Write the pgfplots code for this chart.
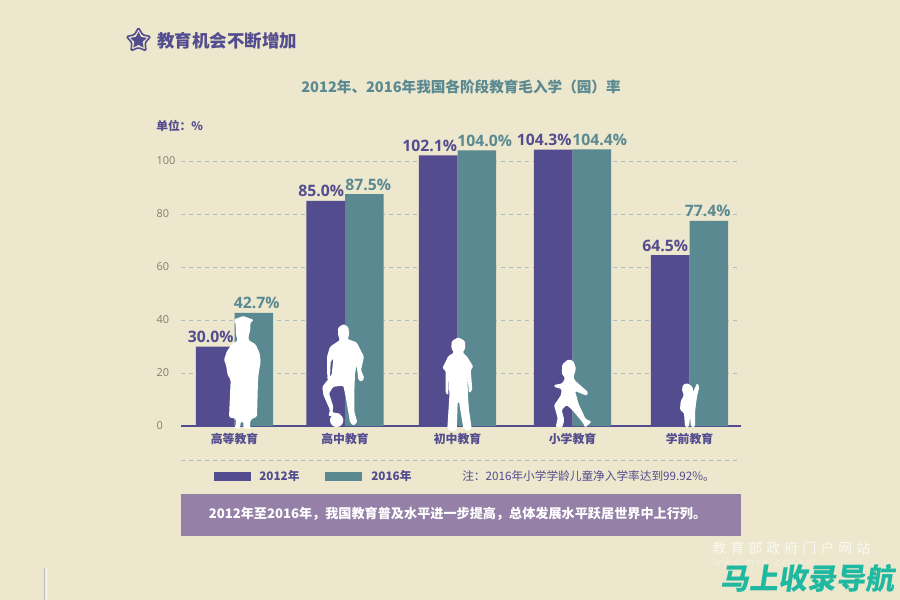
\documentclass[border=0pt]{standalone}
\usepackage{fontspec}
\usepackage{pgfplots}
\pgfplotsset{compat=1.18}
\usetikzlibrary{shapes.geometric}
\setmainfont{Noto Sans CJK SC}
\newfontfamily\numfont{Open Sans}
\definecolor{bgc}{HTML}{ECE7CD}
\definecolor{pur}{HTML}{534C8E}
\definecolor{tea}{HTML}{5A8992}
\definecolor{boxc}{HTML}{9580A8}
\definecolor{gridc}{HTML}{AEBFC6}
\definecolor{tickc}{HTML}{857D70}
\definecolor{wm}{HTML}{1FB8A0}
\newcommand{\fs}[1]{\fontsize{#1}{#1}\selectfont}
\begin{document}
\begin{tikzpicture}
\useasboundingbox (0,0) rectangle (675pt,-450pt);
\fill[bgc] (0,0) rectangle (675pt,-450pt);
\begin{axis}[
  at={(135.75pt,-319.5pt)}, anchor=south west,
  scale only axis, width=420pt, height=218.6pt,
  xmin=181, xmax=741, ymin=0, ymax=110,
  axis x line=bottom, axis y line=left,
  axis line style={-},
  x axis line style={draw=pur, line width=1.6pt},
  y axis line style={draw=none},
  major tick length=0pt,
  ytick={0,20,40,60,80,100},
  xtick={234.5,345,457.5,572.5,689.5},
  xticklabels={高等教育,高中教育,初中教育,小学教育,学前教育},
  xticklabel style={text=pur, font=\fs{8.9pt}\bfseries, inner sep=0pt, yshift=-5.5pt},
  yticklabel style={text=tickc, font=\numfont\fs{8.2pt}, anchor=east, inner sep=0pt, text width=15pt, align=left, xshift=-3pt},
  /pgf/number format/assume math mode=true,
  ymajorgrids, grid style={draw=gridc, dashed, line width=.6pt},
  ybar=0pt, bar width=28.9pt,
  nodes near coords={\pgfmathprintnumber[fixed,fixed zerofill,precision=1]{\pgfplotspointmeta}\%},
  every node near coord/.append style={font=\numfont\bfseries\fs{11.8pt}, inner sep=0pt, anchor=south, xshift=\dx*0.75pt, yshift=2.6pt},
  visualization depends on={\thisrow{dx}\as\dx},
  clip=false, axis on top=false,
]
\addplot[fill=pur, draw=none, every node near coord/.append style={text=pur}] table[x=x,y=y,meta=y]{
x y dx
234.5 30.0 -4.5
345 85.0 -4.5
457.5 102.1 -8.5
572.5 104.3 -9
689.5 64.5 -5
};
\addplot[fill=tea, draw=none, every node near coord/.append style={text=tea}] table[x=x,y=y,meta=y]{
x y dx
234.5 42.7 3
345 87.5 4
457.5 104.0 8
572.5 104.4 8
689.5 77.4 -1
};
\end{axis}
\begin{scope}[x=.75pt,y=-.75pt]
\node[anchor=west,inner sep=0pt,text=pur,font=\fs{13.1pt}\bfseries] at (157,40.5) {教育机会不断增加};
\node[star,star points=5,star point ratio=1.8,minimum size=19pt,inner sep=0pt,draw=pur,line width=1.2pt,fill=bgc,rounded corners=1pt] at (138.5,40.5) {};
\node[star,star points=5,star point ratio=2.0,minimum size=13pt,inner sep=0pt,fill=pur] at (138.5,40.5) {};
\node[anchor=center,inner sep=0pt,text=tea,font=\fs{10.95pt}\bfseries] at (461,87) {2012年、2016年我国各阶段教育毛入学（园）率};
\node[anchor=west,inner sep=0pt,text=pur,font=\fs{8.8pt}\bfseries] at (156,126) {单位：\%};
\draw[gridc,dashed,line width=.6pt] (181,460) -- (741,460);
\fill[pur] (214,472) rectangle (251,481);
\fill[tea] (325,472) rectangle (362,481);
\node[anchor=west,inner sep=0pt,text=pur,font=\fs{8.8pt}\bfseries] at (259,476) {2012年};
\node[anchor=west,inner sep=0pt,text=pur,font=\fs{8.8pt}\bfseries] at (371,476) {2016年};
\node[anchor=west,inner sep=0pt,text=pur,font=\fs{8.75pt}] at (462,476) {注：2016年小学学龄儿童净入学率达到99.92\%。};
\fill[boxc] (181,494) rectangle (741,536);
\node[anchor=center,inner sep=0pt,text=white,font=\fs{9.85pt}\bfseries] at (457.5,514) {2012年至2016年，我国教育普及水平进一步提高，总体发展水平跃居世界中上行列。};
\draw[tickc!50,line width=.5pt] (44.5,568) -- (44.5,600);
\draw[white!80!bgc,line width=.6pt] (46,568) -- (46,600);
\node[anchor=west,inner sep=0pt,text=white,opacity=.75,font=\fs{10.5pt}] at (712,548) {教\kern3pt 育\kern3pt 部\kern3pt 政\kern3pt 府\kern3pt 门\kern3pt 户\kern3pt 网\kern3pt 站};
\node[anchor=west,inner sep=0pt,text=white,opacity=.4,font=\fs{6.5pt}] at (714,564) {w w w . m o e . g o v . c n};
\node[anchor=west,inner sep=0pt,text=wm,font=\fs{21.8pt}\bfseries,xslant=.15,transform shape] at (722,578) {马上收录导航};
\end{scope}
% silhouettes (crop coordinates at 3x)
\begin{scope}[x=.25pt,y=-.25pt,shift={(645,930)}]
\fill[white,rounded corners=1pt] (57,28)--(85,18)--(117,30)--(106,38)--(106,60)--(102,72)--(100,90)--(122,103)--(134,130)--(137,155)--(131,190)--(129,210)--(126,320)--(108,328)--(104,345)--(108,356)--(85,356)--(85,335)--(77,335)--(75,356)--(58,356)--(64,338)--(62,326)--(42,322)--(47,210)--(38,195)--(33,165)--(27,150)--(35,125)--(50,103)--(68,92)--(63,75)--(62,42)--cycle;
\end{scope}
\begin{scope}[x=.25pt,y=-.25pt,shift={(945,945)}]
\fill[white,rounded corners=1pt] (85,27)--(100,36)--(103,60)--(97,72)--(125,82)--(147,125)--(138,165)--(148,190)--(140,200)--(130,195)--(125,150)--(120,175)--(118,230)--(118,290)--(127,322)--(115,332)--(105,322)--(93,250)--(85,212)--(55,215)--(42,235)--(55,275)--(52,292)--(80,297)--(40,304)--(45,285)--(25,240)--(22,215)--(50,180)--(55,130)--(47,140)--(45,190)--(37,195)--(36,125)--(45,95)--(75,75)--(69,60)--(69,38)--cycle;
\fill[white] (65,316) circle[radius=20];
\end{scope}
\begin{scope}[x=.25pt,y=-.25pt,shift={(1290,990)}]
\fill[white,rounded corners=1pt] (85,22)--(65,33)--(64,55)--(72,68)--(55,78)--(37,115)--(47,122)--(47,190)--(55,195)--(57,130)--(58,200)--(52,295)--(65,305)--(80,300)--(83,215)--(87,215)--(100,295)--(115,303)--(125,295)--(117,240)--(114,200)--(112,130)--(117,190)--(127,180)--(122,120)--(130,110)--(110,78)--(98,68)--(106,55)--(105,33)--cycle;
\end{scope}
\begin{scope}[x=.25pt,y=-.25pt,shift={(1635,1065)}]
\fill[white,rounded corners=1pt] (70,13)--(52,28)--(50,55)--(60,70)--(52,85)--(27,90)--(28,96)--(50,102)--(48,120)--(35,140)--(27,150)--(38,190)--(32,217)--(52,217)--(58,195)--(50,165)--(65,150)--(82,165)--(115,205)--(120,218)--(140,200)--(122,192)--(100,145)--(95,125)--(90,108)--(125,122)--(130,112)--(88,75)--(86,65)--(93,40)--(85,18)--cycle;
\end{scope}
\begin{scope}[x=.25pt,y=-.25pt,shift={(2010,1125)}]
\fill[white,rounded corners=1pt] (52,24)--(38,30)--(36,48)--(42,60)--(32,78)--(30,105)--(42,114)--(45,156)--(57,156)--(60,125)--(63,156)--(75,156)--(75,114)--(78,85)--(82,60)--(88,36)--(82,24)--(74,40)--(70,52)--(68,36)--cycle;
\end{scope}
\end{tikzpicture}
\end{document}
